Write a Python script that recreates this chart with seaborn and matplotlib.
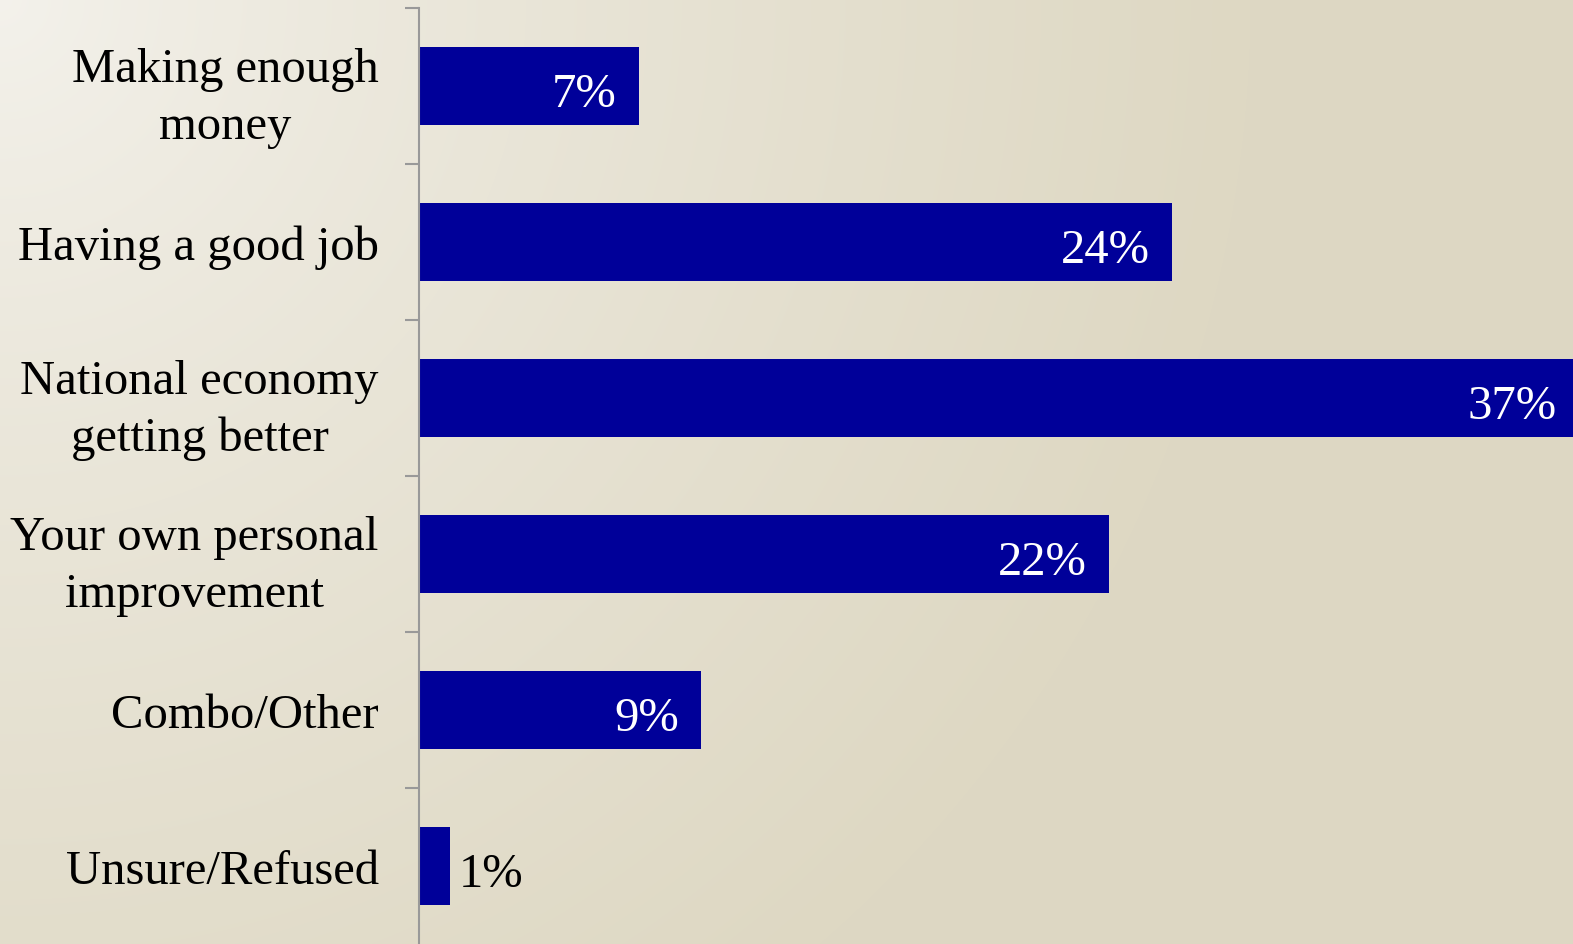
import numpy as np
import pandas as pd
import matplotlib
matplotlib.use("Agg")
import matplotlib.pyplot as plt
import seaborn as sns

categories = ["Making enough\nmoney", "Having a good job", "National economy\ngetting better",
              "Your own personal\nimprovement", "Combo/Other", "Unsure/Refused"]
values = [7, 24, 37, 22, 9, 1]
value_labels = ["7%", "24%", "37%", "22%", "9%", "1%"]

sns.set_theme(style="white")
plt.rcParams['font.family'] = ['Liberation Serif', 'DejaVu Serif']

W, H = 1573, 945
fig = plt.figure(figsize=(W / 100, H / 100), dpi=100)

# background gradient
bg = fig.add_axes([0, 0, 1, 1], zorder=-10)
yy, xx = np.mgrid[0:H, 0:W]
d = np.sqrt((xx / 1250.0) ** 2 + (yy / 1250.0) ** 2)
d = np.clip(d, 0, 1) ** 0.8
c0 = np.array([244, 242, 236]) / 255.0
c1 = np.array([222, 216, 195]) / 255.0
img = c0[None, None, :] * (1 - d[..., None]) + c1[None, None, :] * d[..., None]
bg.imshow(img, aspect="auto", extent=[0, 1, 0, 1], origin="upper")
bg.axis("off")

ax = fig.add_axes([419 / W, 0, 1 - 419 / W, (H - 9) / H])
ax.set_facecolor("none")
df = pd.DataFrame({"cat": categories, "val": values})
sns.barplot(data=df, y="cat", x="val", orient="h", color="#000099", width=0.5,
            saturation=1, ax=ax, edgecolor="none")
ax.set_xlim(0, 36.8)
ax.set_ylim(5.5, -0.5)
ax.set_xlabel("")
ax.set_ylabel("")
ax.xaxis.set_visible(False)
for s in ["top", "right", "bottom"]:
    ax.spines[s].set_visible(False)
ax.spines["left"].set_color("#999999")
ax.spines["left"].set_linewidth(1.5)

ax.set_yticks(np.arange(-0.5, 5.5, 1.0))
ax.set_yticklabels([])
ax.tick_params(axis="y", which="major", direction="out", length=10, width=1.5,
               color="#999999", left=True)
ax.set_yticks(np.arange(len(categories)), minor=True)
ax.set_yticklabels(categories, minor=True, fontsize=35, color="black",
                   multialignment="center", linespacing=1.38)
ax.tick_params(axis="y", which="minor", length=0, pad=29)

for i, (v, lab) in enumerate(zip(values, value_labels)):
    if v >= 5:
        ax.annotate(lab, xy=(v, i), xytext=(-16, -2), textcoords="offset points",
                    ha="right", va="center_baseline", fontsize=35, color="white",
                    annotation_clip=False)
    else:
        ax.annotate(lab, xy=(v, i), xytext=(6, -2), textcoords="offset points",
                    ha="left", va="center_baseline", fontsize=35, color="black")

fig.savefig("out.png", dpi=100)
